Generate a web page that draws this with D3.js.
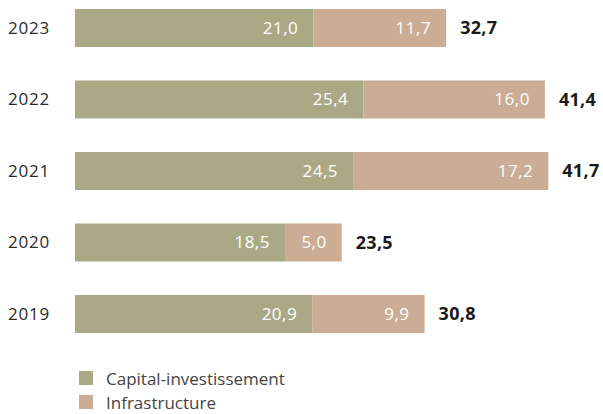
<!DOCTYPE html>
<html>
<head>
<meta charset="utf-8">
<script src="https://cdn.jsdelivr.net/npm/d3@7"></script>
<style>
  body { margin: 0; background: #fff; }
  svg { display: block; font-family: "Open Sans", Lato, sans-serif; }
</style>
</head>
<body>
<div id="chart"></div>
<script>
// data
const years = ["2023", "2022", "2021", "2020", "2019"];
const privateEquity = [21.0, 25.4, 24.5, 18.5, 20.9];
const infrastructure = [11.7, 16.0, 17.2, 5.0, 9.9];
const seriesNames = ["Capital-investissement", "Infrastructure"];
const colors = ["#aba985", "#cbac94"];

const width = 603, height = 414;
const fmt = v => v.toFixed(1).replace(".", ",");

const svg = d3.select("#chart")
    .append("svg")
    .attr("width", width)
    .attr("height", height);

const x = d3.scaleLinear().domain([0, 50]).range([75, 75 + 567.5]);
const y = d3.scaleBand().domain(years).range([9, 333]).paddingInner(0.4685).paddingOuter(0);

const rows = years.map((yr, i) => ({
    year: yr,
    a: privateEquity[i],
    b: infrastructure[i],
    total: +(privateEquity[i] + infrastructure[i]).toFixed(1)
}));

const g = svg.append("g");
const mid = d => y(d.year) + y.bandwidth() / 2;

// year labels
g.selectAll(".year")
    .data(rows)
    .enter().append("text")
    .attr("class", "year")
    .attr("x", 8)
    .attr("y", mid)
    .attr("dy", "0.35em")
    .attr("font-size", "17px")
    .attr("letter-spacing", "0.8px")
    .attr("fill", "#2a2a2a")
    .text(d => d.year);

// first segment
g.selectAll(".segA")
    .data(rows)
    .enter().append("rect")
    .attr("x", x(0))
    .attr("y", d => y(d.year))
    .attr("width", d => x(d.a) - x(0))
    .attr("height", y.bandwidth())
    .attr("fill", colors[0]);

// second segment
g.selectAll(".segB")
    .data(rows)
    .enter().append("rect")
    .attr("x", d => x(d.a))
    .attr("y", d => y(d.year))
    .attr("width", d => x(d.a + d.b) - x(d.a))
    .attr("height", y.bandwidth())
    .attr("fill", colors[1]);

// labels inside segments
g.selectAll(".lblA")
    .data(rows)
    .enter().append("text")
    .attr("x", d => x(d.a) - 15)
    .attr("y", mid)
    .attr("dy", "0.35em")
    .attr("text-anchor", "end")
    .attr("font-size", "17px")
    .attr("letter-spacing", "0.5px")
    .attr("fill", "#fff")
    .text(d => fmt(d.a));

g.selectAll(".lblB")
    .data(rows)
    .enter().append("text")
    .attr("x", d => x(d.a + d.b) - 15)
    .attr("y", mid)
    .attr("dy", "0.35em")
    .attr("text-anchor", "end")
    .attr("font-size", "17px")
    .attr("letter-spacing", "0.5px")
    .attr("fill", "#fff")
    .text(d => fmt(d.b));

// totals
g.selectAll(".total")
    .data(rows)
    .enter().append("text")
    .attr("x", d => x(d.a + d.b) + 14)
    .attr("y", mid)
    .attr("dy", "0.35em")
    .attr("font-size", "18px")
    .attr("font-weight", "bold")
    .attr("letter-spacing", "0.3px")
    .attr("fill", "#1a1a1a")
    .text(d => fmt(d.total));

// legend
const legend = svg.append("g")
    .selectAll("g")
    .data(seriesNames)
    .enter().append("g")
    .attr("transform", (d, i) => "translate(79," + (371 + i * 24) + ")");

legend.append("rect")
    .attr("width", 14)
    .attr("height", 14)
    .attr("fill", (d, i) => colors[i]);

legend.append("text")
    .attr("x", 27)
    .attr("y", 14)
    .attr("font-size", "17px")
    .attr("fill", "#444")
    .text(d => d);
</script>
</body>
</html>
